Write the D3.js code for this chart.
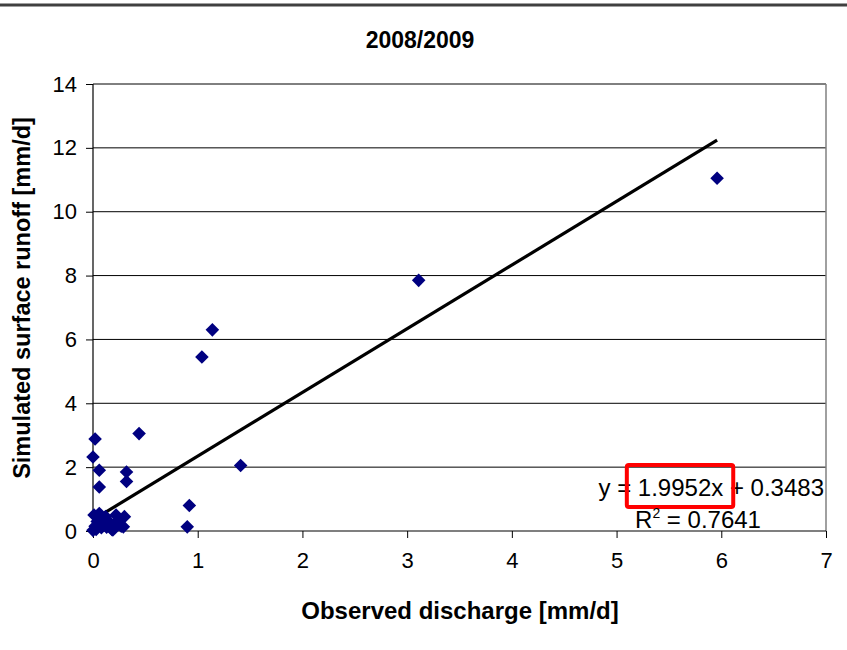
<!DOCTYPE html>
<html>
<head>
<meta charset="utf-8">
<script src="https://cdn.jsdelivr.net/npm/d3@7"></script>
<style>
  body { margin: 0; background: #fff; }
  text { font-family: "Liberation Sans", Arial, sans-serif; }
</style>
</head>
<body>
<svg id="chart" width="847" height="650"></svg>
<script>
// observed discharge vs simulated surface runoff, 2008/2009
const observed = [5.96, 3.11, 1.14, 1.04, 0.44, 1.41, 0.92, 0.90,
  0.02, 0.00, 0.06, 0.06, 0.32, 0.32,
  0.00, 0.01, 0.02, 0.04, 0.06, 0.03, 0.08, 0.10, 0.12, 0.15,
  0.18, 0.20, 0.22, 0.25, 0.27, 0.30, 0.05, 0.13, 0.29, 0.19];
const simulated = [11.05, 7.85, 6.30, 5.45, 3.05, 2.05, 0.80, 0.13,
  2.88, 2.32, 1.90, 1.38, 1.85, 1.55,
  0.02, 0.50, 0.15, 0.30, 0.55, 0.05, 0.10, 0.25, 0.45, 0.30,
  0.05, 0.20, 0.50, 0.30, 0.15, 0.45, 0.20, 0.12, 0.13, 0.03];

const xTicks = [0, 1, 2, 3, 4, 5, 6, 7];
const yTicks = [0, 2, 4, 6, 8, 10, 12, 14];

// linear trendline as printed on the chart
const slope = 1.9952;
const intercept = 0.3483;
const r2 = "0.7641";

const svg = d3.select("#chart");
const margin = {top: 84, right: 21, bottom: 119, left: 93};
const width = 847, height = 650;

const x = d3.scaleLinear().domain([0, 7]).range([margin.left, width - margin.right]);
const y = d3.scaleLinear().domain([0, 14]).range([height - margin.bottom, margin.top]);

// frame line at the very top
svg.append("line")
  .attr("x1", 0).attr("x2", width)
  .attr("y1", 5).attr("y2", 5)
  .attr("stroke", "#404040").attr("stroke-width", 3);

// horizontal gridlines
svg.append("g")
  .selectAll("line")
  .data(yTicks.filter(d => d > 0))
  .enter()
  .append("line")
  .attr("x1", x(0)).attr("x2", x(7))
  .attr("y1", d => y(d)).attr("y2", d => y(d))
  .attr("stroke", "#000").attr("stroke-width", 1);

// right border of plot area
svg.append("line")
  .attr("x1", x(7)).attr("x2", x(7))
  .attr("y1", y(14)).attr("y2", y(0))
  .attr("stroke", "#808080").attr("stroke-width", 1.5);

// axes
const xAxis = d3.axisBottom(x).tickValues(xTicks).tickFormat(d3.format("d")).tickSize(7).tickPadding(14);
const yAxis = d3.axisLeft(y).tickValues(yTicks).tickFormat(d3.format("d")).tickSize(7).tickPadding(9);

const gx = svg.append("g")
  .attr("transform", `translate(0, ${y(0)})`)
  .call(xAxis);
const gy = svg.append("g")
  .attr("transform", `translate(${x(0)}, 0)`)
  .call(yAxis);

[gx, gy].forEach(g => {
  g.select(".domain").attr("stroke", "#000").attr("stroke-width", 1.2);
  g.selectAll(".tick line").attr("stroke", "#000");
  g.selectAll(".tick text")
    .attr("fill", "#000")
    .style("font-size", "22px")
    .style("font-family", "'Liberation Sans', Arial, sans-serif");
});
gx.select(".domain").attr("d", `M${x(0)},0H${x(7)}`);
gy.select(".domain").attr("d", `M0,${y(0)}V${y(14)}`);

// trendline over the observed range
const xMin = d3.min(observed), xMax = d3.max(observed);
svg.append("line")
  .attr("x1", x(xMin)).attr("y1", y(slope * xMin + intercept))
  .attr("x2", x(xMax)).attr("y2", y(slope * xMax + intercept))
  .attr("stroke", "#000").attr("stroke-width", 3.2);

// data points as diamonds
const diamond = d3.symbol().type(d3.symbolSquare).size(92);
svg.append("g")
  .selectAll("path")
  .data(observed.map((d, i) => [d, simulated[i]]))
  .enter()
  .append("path")
  .attr("d", diamond)
  .attr("transform", d => `translate(${x(d[0])}, ${y(d[1])}) rotate(45)`)
  .attr("fill", "#000080");

// equation label
const eq = svg.append("text")
  .attr("x", 824).attr("y", 496)
  .attr("text-anchor", "end")
  .style("font-size", "24px")
  .attr("fill", "#000");
eq.append("tspan").text("y = ");
eq.append("tspan").text("1.9952x");
eq.append("tspan").text(" + 0.3483");

const node = eq.node();
const start = node.getStartPositionOfChar(4).x;
const end = node.getEndPositionOfChar(10).x;
svg.append("rect")
  .attr("x", start - 11).attr("y", 465)
  .attr("width", end - start + 21).attr("height", 42)
  .attr("rx", 2)
  .attr("fill", "none")
  .attr("stroke", "#ff0000").attr("stroke-width", 4);

const r2Text = svg.append("text")
  .attr("x", 698).attr("y", 528)
  .attr("text-anchor", "middle")
  .style("font-size", "24px")
  .attr("fill", "#000");
r2Text.append("tspan").text("R");
r2Text.append("tspan").attr("dy", -10).style("font-size", "14px").text("2");
r2Text.append("tspan").attr("dy", 10).text(" = " + r2);

// title
svg.append("text")
  .attr("x", 420).attr("y", 48)
  .attr("text-anchor", "middle")
  .style("font-size", "23px")
  .style("font-weight", "bold")
  .text("2008/2009");

// axis titles
svg.append("text")
  .attr("x", 460).attr("y", 619)
  .attr("text-anchor", "middle")
  .style("font-size", "24px")
  .style("font-weight", "bold")
  .text("Observed discharge [mm/d]");

svg.append("text")
  .attr("transform", "translate(30, 298) rotate(-90)")
  .attr("text-anchor", "middle")
  .style("font-size", "23.5px")
  .style("font-weight", "bold")
  .text("Simulated surface runoff [mm/d]");
</script>
</body>
</html>
